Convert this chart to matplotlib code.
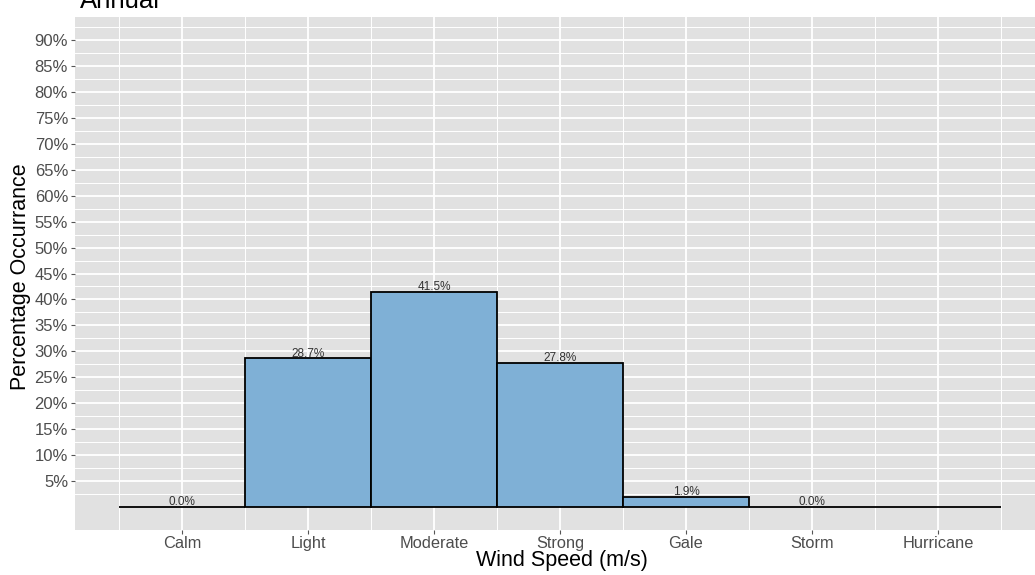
import matplotlib
matplotlib.use("Agg")
import matplotlib.pyplot as plt
from matplotlib.ticker import FixedLocator, FuncFormatter

plt.rcParams['font.family'] = ['Liberation Sans', 'DejaVu Sans']

# Wind speed classes and their share of annual observations (%)
categories = ["Calm", "Light", "Moderate", "Strong", "Gale", "Storm", "Hurricane"]
percent = [0.0, 28.7, 41.5, 27.8, 1.9, 0.0, 0.0]
show_label = [True, True, True, True, True, True, False]
y_breaks = [5, 10, 15, 20, 25, 30, 35, 40, 45, 50, 55, 60, 65, 70, 75, 80, 85, 90]

W, H = 1035, 575
fig = plt.figure(figsize=(W / 100, H / 100), dpi=100)
fig.patch.set_facecolor("white")

# panel (extends a little past the right edge of the figure)
left_px, right_px, top_px, bottom_px = 75, 1045, 17, 530
ax = fig.add_axes([left_px / W, 1 - bottom_px / H,
                   (right_px - left_px) / W, (bottom_px - top_px) / H])
ax.set_facecolor("#e1e1e1")
for s in ax.spines.values():
    s.set_visible(False)

x = list(range(1, len(categories) + 1))
ax.set_xlim(0.15, 7.85)
ax.set_ylim(-4.5, 94.5)

# grid: major at breaks, minor half-way between
ax.xaxis.set_major_locator(FixedLocator(x))
ax.xaxis.set_minor_locator(FixedLocator([v - 0.5 for v in x] + [7.5]))
ax.yaxis.set_major_locator(FixedLocator(y_breaks))
ax.yaxis.set_minor_locator(FixedLocator([b - 2.5 for b in y_breaks] + [92.5]))
ax.grid(which="major", color="white", linewidth=1.3)
ax.grid(which="minor", color="white", linewidth=0.7)
ax.set_axisbelow(True)

bars = ax.bar(x, percent, width=1.0, color="#7fb0d6", edgecolor="black",
              linewidth=1.3, zorder=3)
for xi, v, show in zip(x, percent, show_label):
    if show:
        ax.text(xi, v - 0.3, f"{v:.1f}%", ha="center", va="bottom",
                fontsize=8.5, color="#333333", zorder=4)

ax.set_xticks(x)
ax.set_xticklabels(categories)
ax.yaxis.set_major_formatter(FuncFormatter(lambda v, p: f"{v:.0f}%"))
ax.tick_params(which="major", length=3, width=0.8, color="#555555",
               labelcolor="#4d4d4d", labelsize=12)
ax.tick_params(axis="x", pad=1.5, labelsize=11.8)
ax.tick_params(axis="y", pad=2)
ax.tick_params(which="minor", length=0)

fig.text(562 / W, 1 - 566 / H, "Wind Speed (m/s)", ha="center",
         va="baseline", fontsize=15.5, color="black")
fig.text(21 / W, 1 - 277 / H, "Percentage Occurrance", ha="center",
         va="center", rotation=90, fontsize=15.5, color="black")
fig.text(80 / W, 1 - 8 / H, "Annual", ha="left", va="baseline",
         fontsize=18.5, color="black")

fig.savefig("out.png", dpi=100)
